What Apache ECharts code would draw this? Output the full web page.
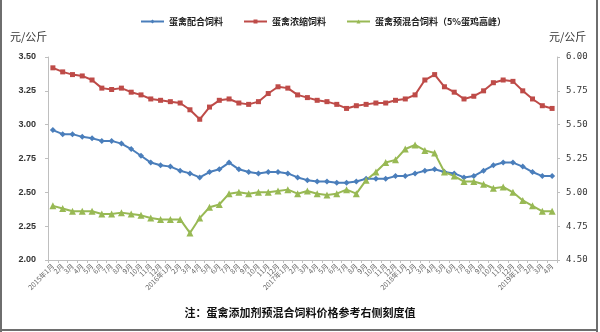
<!DOCTYPE html>
<html>
<head>
<meta charset="utf-8">
<script src="https://cdn.jsdelivr.net/npm/echarts@6/dist/echarts.min.js"></script>
<style>
  html, body { margin: 0; padding: 0; background: #fff; }
  #wrap { position: relative; width: 600px; height: 332px; }
  #chart { position: absolute; left: 0; top: 0; width: 600px; height: 332px; }
  .edge { position: absolute; background: #6e6e6e; }
</style>
</head>
<body>
<div id="wrap">
  <div id="chart"></div>
  <div class="edge" style="left:0;top:0;width:2px;height:332px;"></div>
  <div class="edge" style="left:596px;top:0;width:2px;height:332px;"></div>
  <div class="edge" style="left:0;top:329px;width:598px;height:2px;"></div>
</div>
<script>
// Monthly months 2015-01 .. 2019-04
const years = [2015, 2016, 2017, 2018, 2019];
const months = [];
years.forEach(function (y) {
  const last = y === 2019 ? 4 : 12;
  for (let m = 1; m <= last; m++) {
    months.push(m === 1 ? y + '年1月' : m + '月');
  }
});

// 蛋禽配合饲料 (left axis, 元/公斤)
const compoundFeed = [
  2.96, 2.93, 2.93, 2.91, 2.90, 2.88, 2.88, 2.86, 2.82, 2.77, 2.72, 2.70,
  2.69, 2.66, 2.64, 2.61, 2.65, 2.67, 2.72, 2.67, 2.65, 2.64, 2.65, 2.65,
  2.64, 2.61, 2.59, 2.58, 2.58, 2.57, 2.57, 2.58, 2.60, 2.60, 2.60, 2.62,
  2.62, 2.64, 2.66, 2.67, 2.65, 2.64, 2.61, 2.62, 2.66, 2.70, 2.72, 2.72,
  2.69, 2.65, 2.62, 2.62
];

// 蛋禽浓缩饲料 (left axis, 元/公斤)
const concentrateFeed = [
  3.42, 3.39, 3.37, 3.36, 3.33, 3.27, 3.26, 3.27, 3.24, 3.22, 3.19, 3.18,
  3.17, 3.16, 3.11, 3.04, 3.13, 3.18, 3.19, 3.16, 3.15, 3.17, 3.23, 3.28,
  3.27, 3.22, 3.20, 3.18, 3.17, 3.15, 3.12, 3.14, 3.15, 3.16, 3.16, 3.18,
  3.19, 3.22, 3.33, 3.37, 3.28, 3.24, 3.19, 3.21, 3.25, 3.31, 3.33, 3.32,
  3.25, 3.19, 3.14, 3.12
];

// 蛋禽预混合饲料（5%蛋鸡高峰） (right axis, 元/公斤)
const premixFeed = [
  4.90, 4.88, 4.86, 4.86, 4.86, 4.84, 4.84, 4.85, 4.84, 4.83, 4.81, 4.80,
  4.80, 4.80, 4.70, 4.81, 4.89, 4.91, 4.99, 5.00, 4.99, 5.00, 5.00, 5.01,
  5.02, 4.99, 5.01, 4.99, 4.98, 4.99, 5.02, 4.99, 5.09, 5.15, 5.22, 5.24,
  5.32, 5.35, 5.31, 5.29, 5.15, 5.12, 5.08, 5.08, 5.06, 5.03, 5.04, 5.00,
  4.94, 4.90, 4.86, 4.86
];

const seriesNames = ['蛋禽配合饲料', '蛋禽浓缩饲料', '蛋禽预混合饲料（5%蛋鸡高峰）'];
const colors = ['#4a7ebb', '#be4b48', '#98b954'];
const unitText = '元/公斤';

const axisGray = '#bfbfbf';
const chart = echarts.init(document.getElementById('chart'), null, { renderer: 'canvas' });

function lineSeries(name, data, color, symbol, size, yIndex) {
  return {
    name: name,
    type: 'line',
    yAxisIndex: yIndex,
    data: data,
    symbol: symbol,
    symbolSize: size,
    showSymbol: true,
    lineStyle: { color: color, width: 2 },
    itemStyle: { color: color },
    emphasis: { disabled: true },
    animation: false
  };
}

chart.setOption({
  animation: false,
  color: colors,
  legend: {
    top: 12,
    left: 135,
    itemWidth: 23,
    itemHeight: 5,
    itemGap: 20,
    textStyle: { fontSize: 9, fontWeight: 'bold', color: '#222', fontFamily: 'Noto Sans CJK SC' },
    data: seriesNames
  },
  grid: { left: 48, right: 43, top: 57, bottom: 72, containLabel: false },
  xAxis: {
    type: 'category',
    data: months,
    boundaryGap: true,
    axisLine: { lineStyle: { color: axisGray, width: 1 } },
    axisTick: { show: true, interval: 0, length: 3, lineStyle: { color: axisGray } },
    axisLabel: {
      interval: 0,
      rotate: 45,
      fontSize: 7,
      color: '#666',
      margin: 5,
      fontFamily: 'Noto Sans CJK SC'
    },
    splitLine: { show: false }
  },
  yAxis: [
    {
      type: 'value',
      min: 2,
      max: 3.5,
      interval: 0.25,
      axisLine: { show: true, lineStyle: { color: axisGray } },
      axisTick: { show: true, length: 3, lineStyle: { color: axisGray } },
      axisLabel: {
        fontSize: 9,
        fontWeight: 'bold',
        color: '#333',
        margin: 12,
        formatter: function (v) { return v.toFixed(2); }
      },
      splitLine: { show: false }
    },
    {
      type: 'value',
      min: 4.5,
      max: 6,
      interval: 0.25,
      position: 'right',
      axisLine: { show: true, lineStyle: { color: axisGray } },
      axisTick: { show: true, length: 3, lineStyle: { color: axisGray } },
      axisLabel: {
        fontSize: 9,
        color: '#333',
        margin: 9,
        fontFamily: 'DejaVu Sans Mono',
        formatter: function (v) { return v.toFixed(2); }
      },
      splitLine: { show: false }
    }
  ],
  graphic: [
    {
      type: 'text',
      left: 10,
      top: 31,
      style: { text: unitText, fontSize: 11, fill: '#333', fontFamily: 'Noto Sans CJK SC' }
    },
    {
      type: 'text',
      left: 549,
      top: 31,
      style: { text: unitText, fontSize: 11, fill: '#333', fontFamily: 'Noto Sans CJK SC' }
    },
    {
      type: 'text',
      left: 'center',
      top: 307,
      style: {
        text: '注：蛋禽添加剂预混合饲料价格参考右侧刻度值',
        fontSize: 11,
        fontWeight: 'bold',
        fill: '#111',
        fontFamily: 'Noto Sans CJK SC'
      }
    }
  ],
  series: [
    lineSeries(seriesNames[0], compoundFeed, colors[0], 'diamond', 6, 0),
    lineSeries(seriesNames[1], concentrateFeed, colors[1], 'rect', 5, 0),
    lineSeries(seriesNames[2], premixFeed, colors[2], 'triangle', 7, 1)
  ]
});
</script>
</body>
</html>
